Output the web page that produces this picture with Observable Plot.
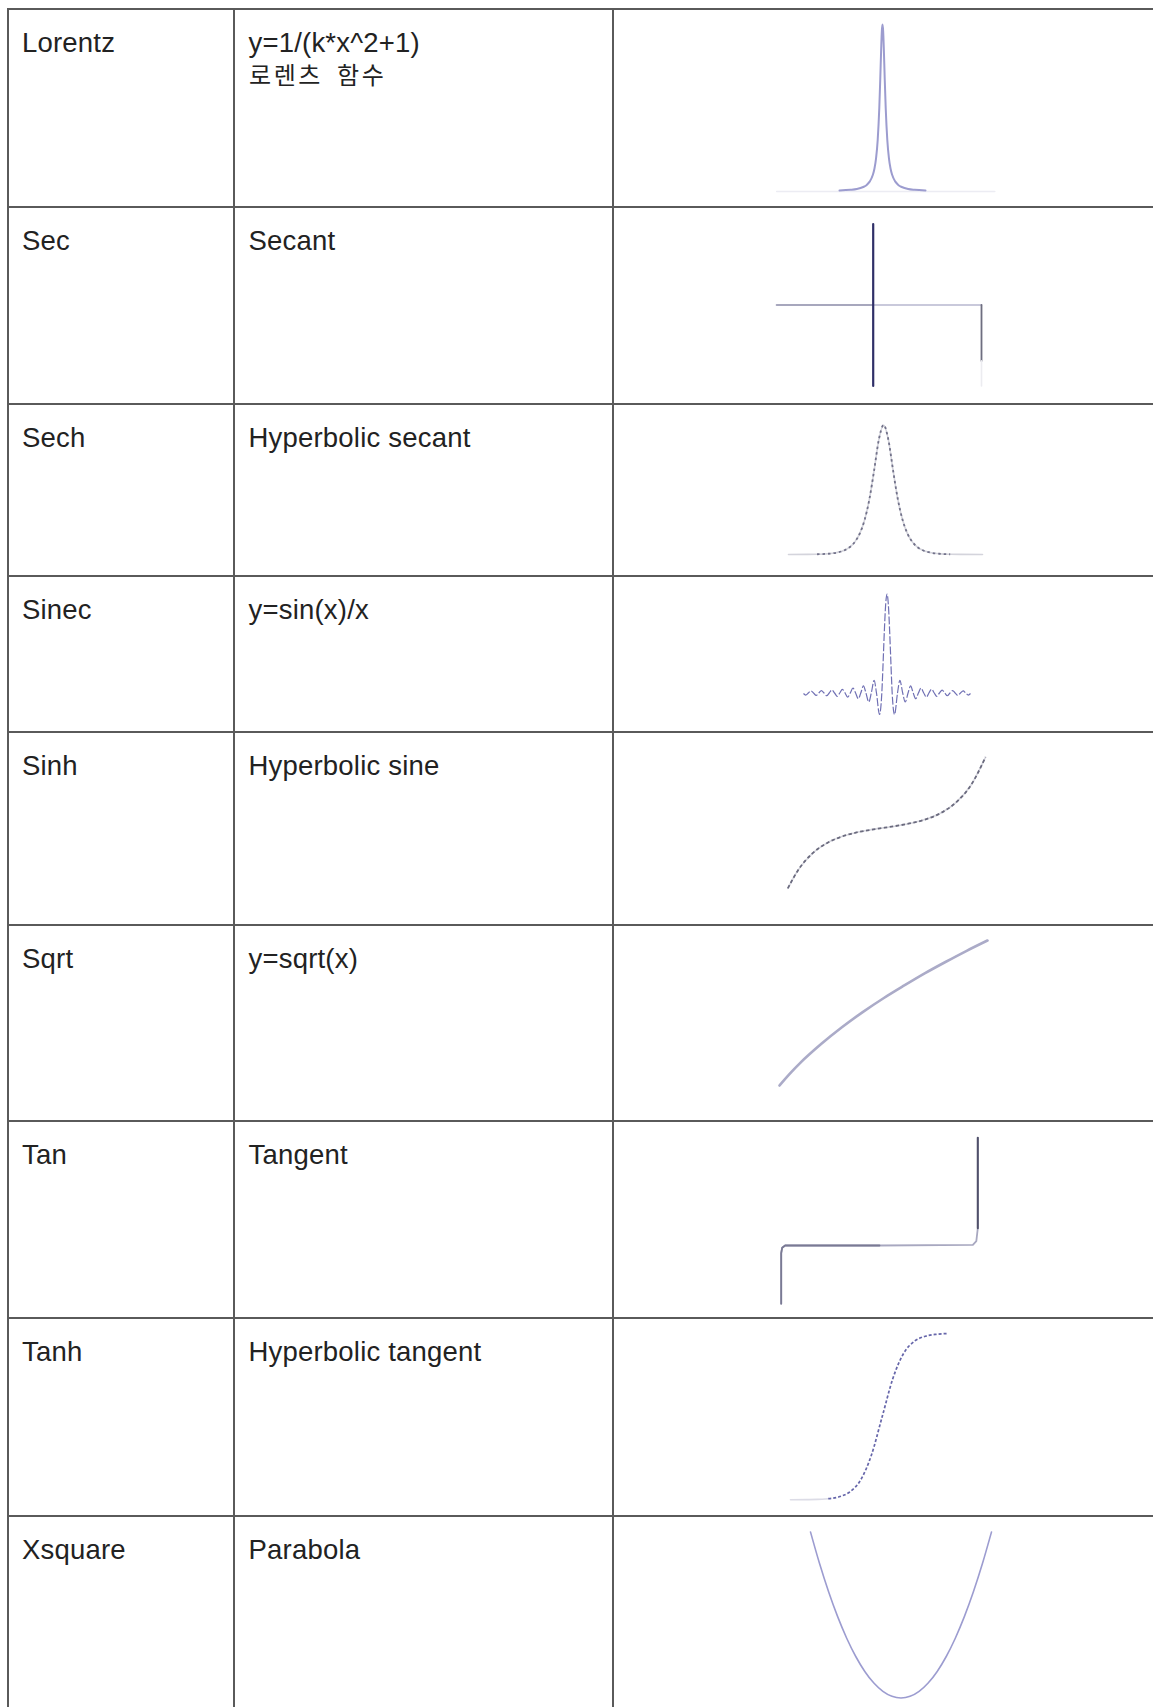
<!DOCTYPE html>
<html><head><meta charset="utf-8">
<script src="https://cdn.jsdelivr.net/npm/d3@7"></script>
<script src="https://cdn.jsdelivr.net/npm/@observablehq/plot@0.6"></script>
<style>
html,body{margin:0;padding:0;background:#fff;}
#page{position:relative;width:1153px;height:1707px;overflow:hidden;font-family:"Liberation Sans",Arial,sans-serif;color:#222;}
.h{position:absolute;left:6.5px;width:1170px;height:2px;background:#5a5a5a;}
.v{position:absolute;top:8px;width:2px;height:1720px;background:#5a5a5a;}
.t{position:absolute;font-size:27.5px;line-height:27px;white-space:nowrap;letter-spacing:0.2px;}
.ko{position:absolute;font-family:"Noto Sans CJK KR",sans-serif;font-size:24px;line-height:24px;letter-spacing:2.6px;word-spacing:6px;white-space:nowrap;color:#222;}
.cell{position:absolute;left:613px;}
</style></head><body><div id="page"></div>
<script>
// ---- table text ----
const names = ["Lorentz","Sec","Sech","Sinec","Sinh","Sqrt","Tan","Tanh","Xsquare"];
const descriptions = ["y=1/(k*x^2+1)","Secant","Hyperbolic secant","y=sin(x)/x","Hyperbolic sine","y=sqrt(x)","Tangent","Hyperbolic tangent","Parabola"];
const descriptionNotes = ["로렌츠 함수","","","","","","","",""];

// ---- curve values ----
const lorentzX = [-13.4,-10,-8,-6,-5,-4,-3,-2.5,-2,-1.5,-1,-0.7,-0.4,-0.2,0,0.2,0.4,0.7,1,1.5,2,2.5,3,4,5,6,8,10,13.4];
const lorentzY = [0.006,0.01,0.015,0.027,0.038,0.059,0.1,0.138,0.2,0.308,0.5,0.671,0.862,0.962,1,0.962,0.862,0.671,0.5,0.308,0.2,0.138,0.1,0.059,0.038,0.027,0.015,0.01,0.006];
const lorentzAxisX = [-33,35];
const lorentzAxisY = [0,0];

const secLeftX = [-1,0];      const secLeftY = [0,0];
const secPoleX = [0,0];       const secPoleY = [1,-1];
const secRightX = [0,1.12];   const secRightY = [0,0];
const secTailX = [1.12,1.12]; const secTailY = [0,-0.69];
const secFadeX = [1.12,1.12]; const secFadeY = [-0.69,-1];

const sechX = [-10,-8,-7,-6,-5,-4,-3.5,-3,-2.5,-2,-1.5,-1,-0.5,0,0.5,1,1.5,2,2.5,3,3.5,4,5,6,7,8,10.4];
const sechY = [0.0001,0.0007,0.0018,0.005,0.0135,0.0366,0.0603,0.0993,0.163,0.266,0.425,0.648,0.887,1,0.887,0.648,0.425,0.266,0.163,0.0993,0.0603,0.0366,0.0135,0.005,0.0018,0.0007,0.0001];

const sincX = [-50,-48.7,-47.1,-45.6,-44,-42.4,-40.8,-39.3,-37.7,-36.1,-34.6,-33,-31.4,-29.8,-28.3,-26.7,-25.1,-23.6,-22,-20.4,-18.8,-17.2,-15.7,-14.1,-12.6,-10.9,-9.4,-7.7,-6.3,-4.5,-3.1,-2.3,-1.6,-1,0,1,1.6,2.3,3.1,4.5,6.3,7.7,9.4,10.9,12.6,14.1,15.7,17.2,18.8,20.4,22,23.6,25.1,26.7,28.3,29.8,31.4,33,34.6,36.1,37.7,39.3,40.8,42.4,44,45.6,47.1,48.7,50];
const sincY = [-0.005,-0.021,0,0.022,0,-0.024,0,0.025,0,-0.028,0,0.03,0,-0.034,0,0.037,0,-0.042,0,0.049,0,-0.058,0,0.071,0,-0.091,0,0.128,0,-0.217,0,0.32,0.62,0.84,1,0.84,0.62,0.32,0,-0.217,0,0.128,0,-0.091,0,0.071,0,-0.058,0,0.049,0,-0.042,0,0.037,0,-0.034,0,0.03,0,-0.028,0,0.025,0,-0.024,0,0.022,0,-0.021,-0.005];

const sinhX = [-3.35,-3,-2.5,-2,-1.5,-1,-0.5,0,0.5,1,1.5,2,2.5,3,3.5];
const sinhY = [-14.23,-10.02,-6.05,-3.63,-2.13,-1.175,-0.521,0,0.521,1.175,2.13,3.63,6.05,10.02,16.54];

const sqrtX = [0.2,0.25,0.3,0.4,0.5,0.6,0.7,0.8,0.9,1.0,1.1,1.2];
const sqrtY = [0.447,0.5,0.548,0.632,0.707,0.775,0.837,0.894,0.949,1.0,1.049,1.095];

const tanX = [-1,-1,-0.99,-0.96,0,0.95,0.985,1,1];
const tanY = [-0.54,-0.07,-0.02,0,0,0.005,0.04,0.16,1];

const tanhX = [-4.25,-3.5,-3,-2.5,-2,-1.5,-1,-0.5,0,0.5,1,1.5,2,2.5,3.07];
const tanhY = [-1,-0.998,-0.995,-0.987,-0.964,-0.905,-0.762,-0.462,0,0.462,0.762,0.905,0.964,0.987,0.996];

const xsqX = [-1,-0.9,-0.8,-0.7,-0.6,-0.5,-0.4,-0.3,-0.2,-0.1,0,0.1,0.2,0.3,0.4,0.5,0.6,0.7,0.8,0.9,1];
const xsqY = [1,0.81,0.64,0.49,0.36,0.25,0.16,0.09,0.04,0.01,0,0.01,0.04,0.09,0.16,0.25,0.36,0.49,0.64,0.81,1];

// ---- layout ----
const rowLines = [9,206.5,404,575.5,732,925,1121,1318,1515.5,1713];
const colLines = [7.5,234,613];
const cellWidth = 540;
const page = document.getElementById("page");

function mini(i, xOpt, yOpt, marks) {
  const h = rowLines[i+1] - rowLines[i];
  const svg = Plot.plot({
    width: cellWidth, height: h, margin: 0,
    x: {...xOpt, axis: null}, y: {...yOpt, axis: null},
    style: {background: "none", overflow: "visible"},
    marks
  });
  const d = document.createElement("div");
  d.className = "cell";
  d.style.top = rowLines[i] + "px";
  d.style.height = h + "px";
  d.appendChild(svg);
  page.appendChild(d);
}

// Lorentz
mini(0, {domain:[-13.4,13.4], range:[226,312]}, {domain:[0,1], range:[182,15]}, [
  Plot.line(lorentzAxisX, {x: lorentzAxisX, y: lorentzAxisY, stroke: "#ececf3", strokeWidth: 1.5}),
  Plot.line(lorentzX, {x: lorentzX, y: lorentzY, curve: "monotone-x", stroke: "#9c9ccf", strokeWidth: 2})
]);
// Sec
mini(1, {domain:[-1,1.12], range:[163,368]}, {domain:[-1,1], range:[178.5,16.5]}, [
  Plot.line(secLeftX, {x: secLeftX, y: secLeftY, stroke: "#8a8aa8", strokeWidth: 1.6}),
  Plot.line(secRightX, {x: secRightX, y: secRightY, stroke: "#b8b8cf", strokeWidth: 1.6}),
  Plot.line(secTailX, {x: secTailX, y: secTailY, stroke: "#6e6e80", strokeWidth: 1.8}),
  Plot.line(secFadeX, {x: secFadeX, y: secFadeY, stroke: "#ececf0", strokeWidth: 1.6}),
  Plot.line(secPoleX, {x: secPoleX, y: secPoleY, stroke: "#2f2f68", strokeWidth: 2.2})
]);
// Sech
mini(2, {domain:[-10,10.4], range:[175,369]}, {domain:[0,1], range:[150,20.5]}, [
  Plot.line(sechX, {x: sechX, y: sechY, curve: "monotone-x", stroke: "#d4d4dc", strokeWidth: 1.6}),
  Plot.line(sechX, {x: sechX, y: sechY, filter: d => Math.abs(d) <= 7, curve: "monotone-x", stroke: "#72728a", strokeWidth: 1.8, strokeDasharray: "2.5,3", strokeLinecap: "butt"})
]);
// Sinec
mini(3, {domain:[-50,50], range:[190,357]}, {domain:[-0.25,1], range:[141.25,17.5]}, [
  Plot.line(sincX, {x: sincX, y: sincY, curve: "monotone-x", stroke: "#7070b4", strokeWidth: 1.2, strokeDasharray: "8,2", strokeLinecap: "butt"})
]);
// Sinh
mini(4, {domain:[-3.5,3.5], range:[170,372]}, {domain:[-14.2,16.54], range:[155.7,24.7]}, [
  Plot.line(sinhX, {x: sinhX, y: sinhY, curve: "monotone-x", stroke: "#d6d6de", strokeWidth: 1.6}),
  Plot.line(sinhX, {x: sinhX, y: sinhY, curve: "monotone-x", stroke: "#6a6a7e", strokeWidth: 1.8, strokeDasharray: "3.5,2.5", strokeLinecap: "butt"})
]);
// Sqrt
mini(5, {domain:[0.2,1.2], range:[166,374]}, {domain:[0.447,1.095], range:[160,15]}, [
  Plot.line(sqrtX, {x: sqrtX, y: sqrtY, curve: "monotone-x", stroke: "#ababc8", strokeWidth: 2.6})
]);
// Tan
mini(6, {domain:[-1,1], range:[167.7,364.3]}, {domain:[-1,1], range:[231.7,16.3]}, [
  Plot.line(tanX, {x: tanX, y: tanY, stroke: "#a8a8c0", strokeWidth: 1.8}),
  Plot.line(tanX, {x: tanX, y: tanY, filter: (d, i) => i <= 4, stroke: "#7a7a94", strokeWidth: 1.8}),
  Plot.line(tanX, {x: tanX, y: tanY, filter: (d, i) => i >= 7, stroke: "#50506a", strokeWidth: 2})
]);
// Tanh
mini(7, {domain:[-4.25,3.07], range:[177,335]}, {domain:[-1,1], range:[181.3,14.7]}, [
  Plot.line(tanhX, {x: tanhX, y: tanhY, filter: d => d <= -2.5, curve: "monotone-x", stroke: "#dcdce6", strokeWidth: 1.6}),
  Plot.line(tanhX, {x: tanhX, y: tanhY, filter: d => d >= -2.5, curve: "monotone-x", stroke: "#6666aa", strokeWidth: 1.7, strokeDasharray: "3,2", strokeLinecap: "butt"})
]);
// Xsquare
mini(8, {domain:[-1,1], range:[197,378]}, {domain:[0,1], range:[181.5,15.5]}, [
  Plot.line(xsqX, {x: xsqX, y: xsqY, curve: "monotone-x", stroke: "#9c9cd0", strokeWidth: 1.6})
]);

// ---- grid and text ----
rowLines.forEach(y => {
  const d = document.createElement("div");
  d.className = "h"; d.style.top = (y - 1) + "px"; page.appendChild(d);
});
colLines.forEach(x => {
  const d = document.createElement("div");
  d.className = "v"; d.style.left = (x - 1) + "px"; page.appendChild(d);
});
names.forEach((n, i) => {
  const a = document.createElement("div");
  a.className = "t"; a.textContent = n;
  a.style.left = "22px"; a.style.top = (rowLines[i] + 20.4) + "px";
  page.appendChild(a);
  const b = document.createElement("div");
  b.className = "t"; b.textContent = descriptions[i];
  b.style.left = "248.5px"; b.style.top = (rowLines[i] + 20.4) + "px";
  page.appendChild(b);
  if (descriptionNotes[i]) {
    const c = document.createElement("div");
    c.className = "ko"; c.textContent = descriptionNotes[i];
    c.style.left = "249px"; c.style.top = (rowLines[i] + 53) + "px";
    page.appendChild(c);
  }
});
</script></body></html>
